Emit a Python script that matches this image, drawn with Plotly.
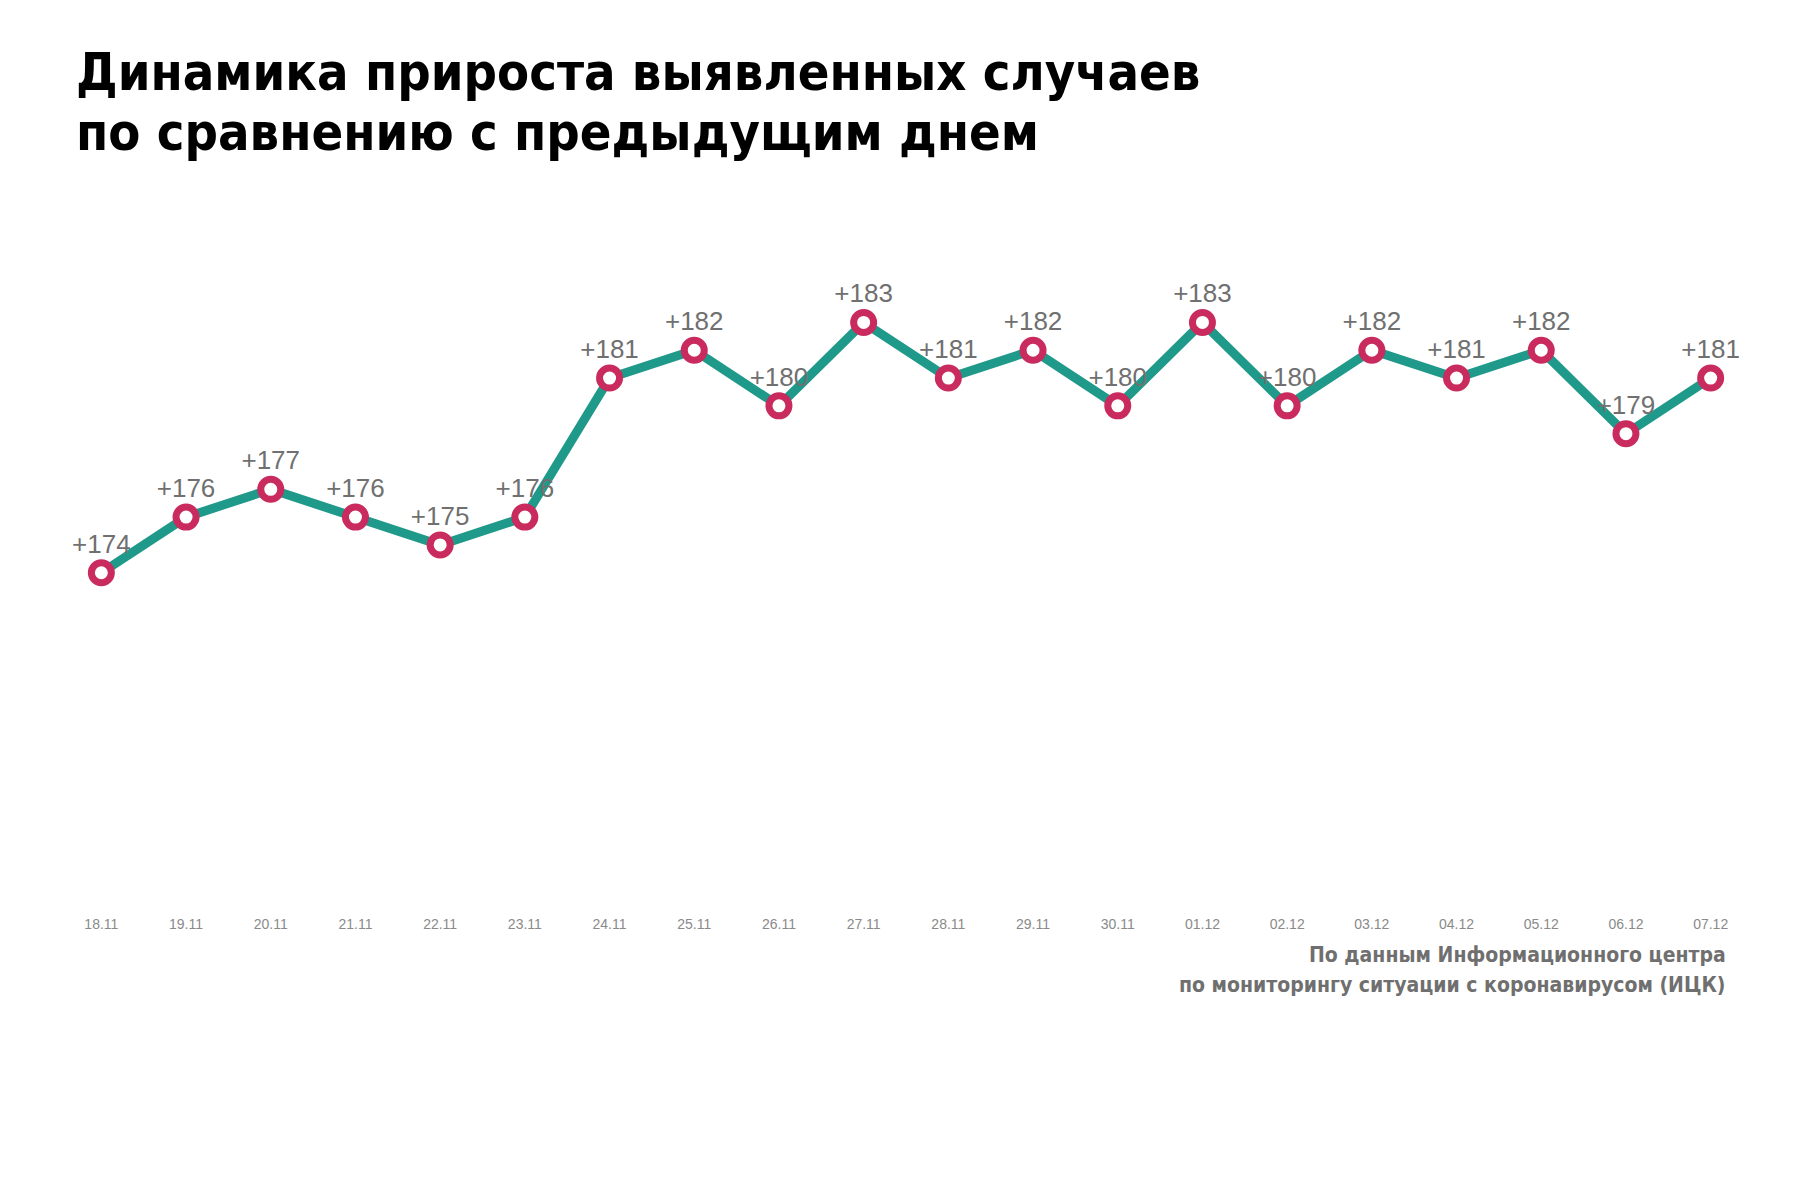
import plotly.graph_objects as go

dates = ["18.11", "19.11", "20.11", "21.11", "22.11", "23.11", "24.11", "25.11", "26.11", "27.11",
         "28.11", "29.11", "30.11", "01.12", "02.12", "03.12", "04.12", "05.12", "06.12", "07.12"]
values = [174, 176, 177, 176, 175, 176, 181, 182, 180, 183,
          181, 182, 180, 183, 180, 182, 181, 182, 179, 181]
labels = ["+" + str(v) for v in values]

title_lines = ["Динамика прироста выявленных случаев", "по сравнению с предыдущим днем"]
source_lines = ["По данным Информационного центра", "по мониторингу ситуации с коронавирусом (ИЦК)"]

cond = "Liberation Sans Narrow, DejaVu Sans Condensed, Arial Narrow, sans-serif"

W, H = 1798, 1198
ML, MR, MT, MB = 51, 53, 231, 292
PW, PH = W - ML - MR, H - MT - MB


def px(xpix):
    return (xpix - ML) / PW


def py(ypix):
    return 1 - (ypix - MT) / PH


fig = go.Figure()
fig.add_trace(go.Scatter(
    x=dates, y=values, mode="lines+markers+text",
    line=dict(color="#1F998A", width=9),
    marker=dict(size=20, color="white", line=dict(color="#C92B5E", width=7)),
    text=labels, textposition="top center",
    textfont=dict(family="Liberation Sans, Arial, sans-serif", size=26, color="#707070"),
    cliponaxis=False, hoverinfo="skip",
))

fig.update_layout(
    width=W, height=H,
    margin=dict(l=ML, r=MR, t=MT, b=MB),
    paper_bgcolor="white", plot_bgcolor="white",
    showlegend=False,
    xaxis=dict(type="category", range=[-0.5, 19.5], showgrid=False, zeroline=False,
               showline=False, ticks="",
               tickfont=dict(family="Liberation Sans, Arial, sans-serif", size=14, color="#8a8a8a")),
    yaxis=dict(range=[161.73, 186.0], visible=False),
)

for i, t in enumerate(title_lines):
    fig.add_annotation(text="<b>" + t + "</b>", xref="paper", yref="paper",
                       x=px(66), xanchor="left",
                       y=py(64 + 60 * i), yanchor="middle",
                       showarrow=False,
                       font=dict(family=cond, size=52, color="black"))

for i, t in enumerate(source_lines):
    fig.add_annotation(text="<b>" + t + "</b>", xref="paper", yref="paper",
                       x=px(1720), xanchor="right",
                       y=py(947 + 30 * i), yanchor="middle",
                       showarrow=False,
                       font=dict(family=cond, size=21, color="#6f6f6f"))

fig.write_html("out.html")
